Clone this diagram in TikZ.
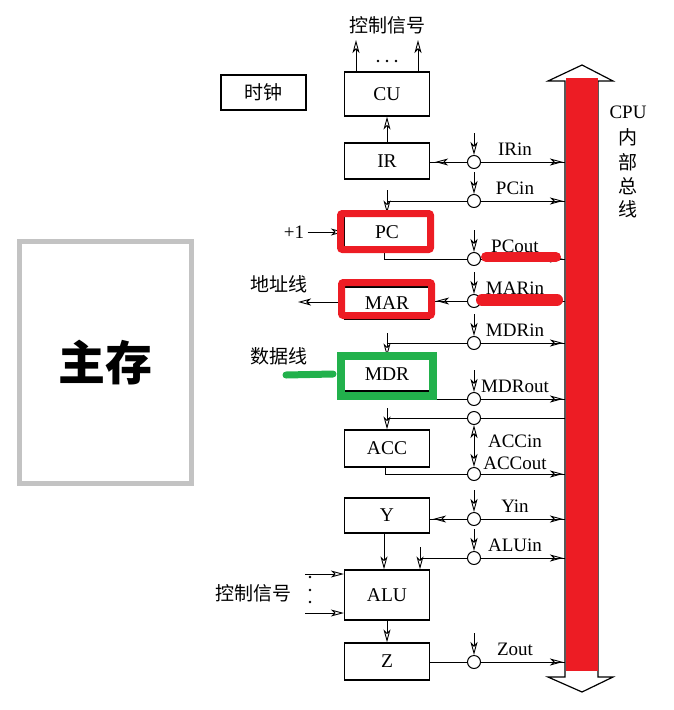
\documentclass[tikz,border=0pt]{standalone}
\usepackage{fontspec}
\setmainfont{Liberation Serif}
\newfontfamily\cjk{Noto Sans CJK SC}
\usepackage{tikz}
\usetikzlibrary{arrows.meta, positioning, calc, decorations.markings}
\definecolor{hlred}{HTML}{ED1C24}
\definecolor{hlgreen}{HTML}{22B14C}
\definecolor{memgray}{HTML}{C3C3C3}

\tikzset{
  barb/.tip={Stealth[length=13pt, width=7pt, inset=3.5pt, open, line width=0.9pt]},
  reg/.style={draw, line width=1.3pt, minimum width=85, inner sep=0pt, font=\fontsize{19.5}{22}\selectfont},
  gate/.style={circle, draw, fill=white, line width=1pt, minimum size=13, inner sep=0pt},
  wire/.style={line width=1pt},
  tipat/.style={postaction={decorate, decoration={markings, mark=at position -#1 with {\arrow{barb}}}}},
  sig/.style={font=\fontsize{19}{22}\selectfont},
  zh/.style={font=\fontsize{19}{22}\selectfont\cjk},
}

\begin{document}
\begin{tikzpicture}[x=1pt, y=-1pt]

  \useasboundingbox (0,0) rectangle (674,710);

  %% Main memory
  \node[draw=memgray, line width=5pt, minimum width=172, minimum height=242,
    font=\fontsize{47}{50}\selectfont\cjk\bfseries] (mem) at (105.5,362.5) {\raisebox{-5pt}{主存}};

  %% Registers
  \node[reg, minimum height=35, font=\fontsize{19}{22}\selectfont\cjk] (clk) at (263.5,92.5) {时钟};
  \foreach \name/\y/\h in {CU/94/44, IR/161/36, PC/232/36, MAR/303/32, MDR/374/34,
                           ACC/448.5/37, Y/515.5/35, ALU/595/50, Z/661.5/37}{
    \node[reg, minimum height=\h] (\name) at (387,\y) {\name};
  }

  %% CU outputs
  \coordinate (cuL) at (356,40);
  \coordinate (cuR) at (418,40);
  \draw[wire, -barb] (cuL |- CU.north) -- (cuL);
  \draw[wire, -barb] (cuR |- CU.north) -- (cuR);
  \foreach \x in {378,387,396} \fill (\x,61) circle (1.3);
  \node[zh] (cuctl) at (387,25) {控制信号};

  %% Internal bus
  \draw[line width=1.2pt] (565,677) -- (565,81) -- (548,81) -- (582,65) -- (613,81) -- (598,81)
    -- (598,677) -- (613,677) -- (582,692) -- (548,677) -- cycle;
  \fill[hlred] (566,78) rectangle (598,671);
  \coordinate (bus) at (565,380);
  \node[sig] (buscpu) at (628,112) {CPU};
  \foreach \t/\y [count=\i] in {内/137, 部/162, 总/186, 线/209}
    \node[zh] (bus\i) at (628,\y) {\t};

  %% Gates
  \foreach \n/\y in {IRin/162, PCin/201, PCout/259, MARin/301, MDRin/343, MDRout/399,
                     Yin/519, ALUin/558, Zout/662}{
    \node[gate] (g\n) at (474,\y) {};
    \coordinate (c\n) at (474,{\y-29});
    \draw[wire, -barb] (c\n) -- (g\n);
    \node[sig, anchor=base] (l\n) at (515,{\y-7}) {\n};
  }
  \node[gate] (gACCin) at (474,418) {};
  \node[gate] (gACCout) at (474,474) {};
  \coordinate (cACC) at (474,446);
  \draw[wire, -barb] (cACC) -- (gACCin);
  \draw[wire, -barb] (cACC) -- (gACCout);
  \node[sig, anchor=base] (lACCin) at (515,447.5) {ACCin};
  \node[sig, anchor=base] (lACCout) at (515,469.5) {ACCout};

  %% IR
  \draw[wire, tipat=5pt] (gIRin) -- (gIRin -| IR.east);
  \draw[wire, tipat=2pt] (gIRin) -- (gIRin -| bus);
  \draw[wire, -barb] (IR) -- (CU);

  %% PC
  \coordinate (aPC) at (387,190);
  \draw[wire] (gPCin) -- (gPCin -| aPC);
  \draw[wire, -barb] (aPC) -- (PC.north);
  \draw[wire, tipat=2pt] (gPCin) -- (gPCin -| bus);
  \draw[wire] ([xshift=-3]PC.south) |- (gPCout);
  \draw[wire, tipat=2pt] (gPCout) -- (gPCout -| bus);
  \node[sig] (plus1) at (294,232) {+1};
  \draw[wire, -barb] (plus1) -- (PC.west);

  %% MAR
  \draw[wire, tipat=6pt] (gMARin) -- (gMARin -| MAR.east);
  \draw[wire, tipat=2pt] (gMARin) -- (gMARin -| bus);
  \coordinate (addr) at (298,302);
  \draw[wire, -barb] (addr -| MAR.west) -- (addr);
  \node[zh] (addrlbl) at (279,284) {地址线};

  %% MDR
  \coordinate (aMDR) at (387,333);
  \draw[wire] (gMDRin) -- (gMDRin -| aMDR);
  \draw[wire, -barb] (aMDR) -- (MDR.north);
  \draw[wire, tipat=2pt] (gMDRin) -- (gMDRin -| bus);
  \draw[wire] ([xshift=-2]MDR.south) |- (gMDRout);
  \draw[wire, tipat=2pt] (gMDRout) -- (gMDRout -| bus);
  \node[zh] (datalbl) at (279,356) {数据线};

  %% ACC
  \coordinate (aACC) at (387,408);
  \draw[wire] (gACCin) -- (gACCin -| aACC);
  \draw[wire, -barb] (aACC) -- (ACC.north);
  \draw[wire] (gACCin) -- (gACCin -| bus);
  \draw[wire] ([xshift=-2]ACC.south) |- (gACCout);
  \draw[wire, tipat=2pt] (gACCout) -- (gACCout -| bus);

  %% Y, ALU, Z
  \draw[wire, tipat=3pt] (gYin) -- (gYin -| Y.east);
  \draw[wire, tipat=2pt] (gYin) -- (gYin -| bus);
  \coordinate (aALU) at (420,547);
  \draw[wire] (gALUin) -- (gALUin -| aALU);
  \draw[wire, -barb] (aALU) -- (aALU |- ALU.north);
  \draw[wire, tipat=2pt] (gALUin) -- (gALUin -| bus);
  \draw[wire, -barb] ([xshift=-3]Y.south) -- ([xshift=-3]ALU.north);
  \draw[wire, -barb] (ALU) -- (Z);
  \draw[wire] (Z.east |- gZout) -- (gZout);
  \draw[wire, tipat=2pt] (gZout) -- (gZout -| bus);

  %% ALU control
  \coordinate (alA) at (305,574);
  \coordinate (alB) at (305,613);
  \draw[wire, -barb] (alA) -- (alA -| ALU.west);
  \draw[wire, -barb] (alB) -- (alB -| ALU.west);
  \foreach \y in {577,590,602} \fill (310,\y) circle (1.3);
  \node[zh] (aluctl) at (253,593) {控制信号};

  %% Highlights
  \draw[hlred, line width=7pt, rounded corners=2pt] (340.5,213.5) rectangle (430.5,249.5);
  \draw[hlred, line width=7pt, rounded corners=2pt] (341.5,282.5) rectangle (431.5,315.5);
  \draw[hlgreen, line width=8pt] (341,356) rectangle (433,396);
  \draw[hlred, line width=10pt, line cap=round] (486,257) -- (556,257);
  \draw[hlred, line width=12pt, line cap=round] (482,300) -- (557,300);
  \draw[hlgreen, line width=7pt, line cap=round] (286,375) -- (333,374);

\end{tikzpicture}
\end{document}
